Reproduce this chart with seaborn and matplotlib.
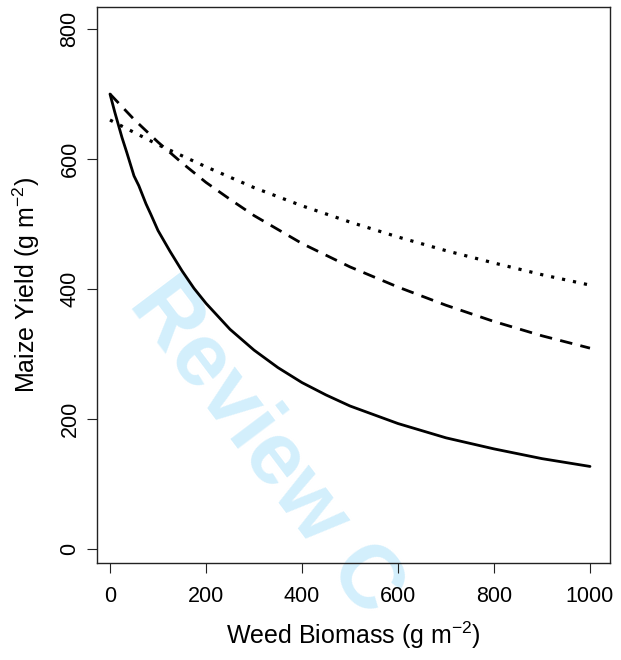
import matplotlib
matplotlib.use("Agg")
import matplotlib.pyplot as plt
import seaborn as sns
import pandas as pd

# Weed biomass (g m-2) and maize yield (g m-2)
biomass_solid = [0, 10, 25, 35, 50, 60, 75, 85, 100, 125, 150, 175, 200, 250, 300,
                 350, 400, 450, 500, 600, 700, 800, 900, 1000]
yield_solid = [700, 672, 633, 610, 574, 559, 531, 515, 490, 458, 428, 401, 378, 338,
               306, 279, 256, 237, 220, 193, 171, 154, 139, 127]

biomass_dashed = [0, 50, 100, 150, 200, 250, 300, 400, 500, 600, 700, 800, 900, 1000]
yield_dashed = [700, 661, 626, 594, 564, 538, 513, 470, 434, 403, 375, 350, 328, 309]

biomass_dotted = [0, 100, 200, 300, 400, 500, 600, 700, 800, 900, 1000]
yield_dotted = [660, 622, 588, 556, 528, 503, 480, 459, 440, 422, 406]

x_ticks = [0, 200, 400, 600, 800, 1000]
y_ticks = [0, 200, 400, 600, 800]

sns.set_style("ticks")
plt.rcParams["font.family"] = ["Liberation Sans", "DejaVu Sans"]
plt.rcParams["mathtext.fontset"] = "custom"
plt.rcParams["mathtext.rm"] = "Liberation Sans"
plt.rcParams["mathtext.it"] = "Liberation Sans"
plt.rcParams["mathtext.bf"] = "Liberation Sans:bold"
plt.rcParams["text.color"] = "black"
plt.rcParams["axes.labelcolor"] = "black"

W, H = 621, 660
fig = plt.figure(figsize=(W / 100, H / 100), dpi=100)
fig.patch.set_facecolor("white")
ax = fig.add_axes([96.7 / W, 1 - 562.5 / H, (610 - 96.7) / W, (562.5 - 7.3) / H])
ax.set_facecolor("none")

df_s = pd.DataFrame({"W": biomass_solid, "Y": yield_solid})
df_d = pd.DataFrame({"W": biomass_dashed, "Y": yield_dashed})
df_p = pd.DataFrame({"W": biomass_dotted, "Y": yield_dotted})

sns.lineplot(data=df_s, x="W", y="Y", ax=ax, color="black", lw=2.0,
             solid_capstyle="round", solid_joinstyle="round")
sns.lineplot(data=df_d, x="W", y="Y", ax=ax, color="black", lw=2.0,
             dashes=False, linestyle=(0, (4.5, 3.0)))
sns.lineplot(data=df_p, x="W", y="Y", ax=ax, color="black", lw=2.3,
             linestyle=(0, (1.0, 2.5)))

ax.set_xlim(-27.7, 1041.7)
ax.set_ylim(-20.8, 833.4)
ax.set_xticks(x_ticks)
ax.set_yticks(y_ticks)
ax.set_xticklabels([str(v) for v in x_ticks])
ax.set_yticklabels([str(v) for v in y_ticks])

for sp in ax.spines.values():
    sp.set_visible(True)
    sp.set_color("#222222")
    sp.set_linewidth(1.0)

ax.tick_params(axis="both", direction="out", length=7.2, width=0.8,
               color="#222222", labelsize=15.5, labelcolor="black")
ax.tick_params(axis="x", pad=10)
ax.tick_params(axis="y", pad=4.5, labelrotation=90)
for lab in ax.get_yticklabels():
    lab.set_va("center")
    lab.set_ha("right")

ax.set_xlabel(r"Weed Biomass (g m$^{\mathrm{-2}}$)", fontsize=18, va="baseline",
              color="black")
ax.xaxis.set_label_coords(0.5, (562.5 - 644.3) / (562.5 - 7.3))
ax.set_ylabel(r"Maize Yield (g m$^{\mathrm{-2}}$)", fontsize=18, color="black")
ax.yaxis.set_label_coords((41.7 - 96.7) / (610 - 96.7), 0.5)

# watermark
fig.text(128 / W, 1 - 303 / H, "Review C", fontsize=64, fontweight="bold",
         color="#d3effc", rotation=-53, rotation_mode="anchor",
         ha="left", va="baseline", zorder=-1)

fig.savefig("out.png", dpi=100)
